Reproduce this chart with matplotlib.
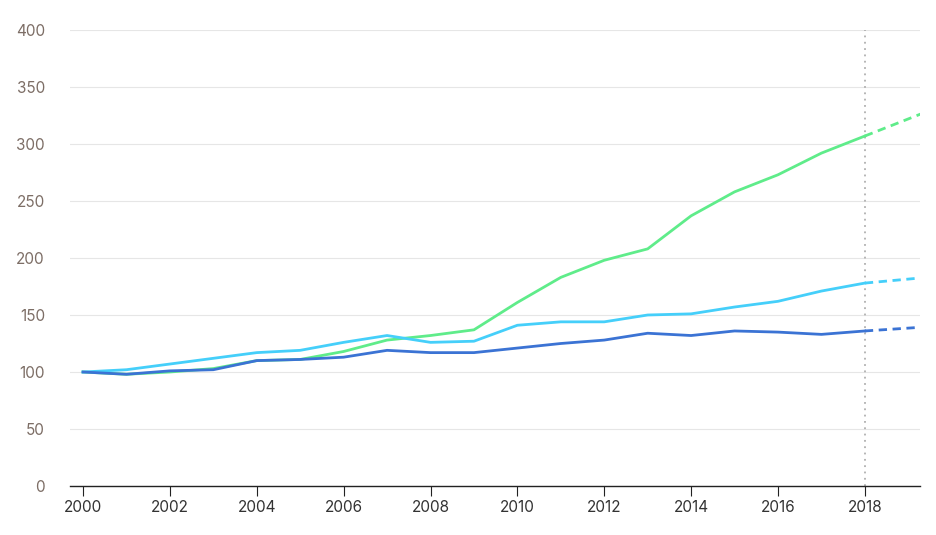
import matplotlib
matplotlib.use("Agg")
import matplotlib.pyplot as plt

plt.rcParams['font.family'] = ['Inter', 'DejaVu Sans']

years = list(range(2000, 2019))
green = [100, 98, 100, 103, 110, 111, 118, 128, 132, 137, 161, 183, 198, 208, 237, 258, 273, 292, 307]
light_blue = [100, 102, 107, 112, 117, 119, 126, 132, 126, 127, 141, 144, 144, 150, 151, 157, 162, 171, 178]
dark_blue = [100, 98, 101, 102, 110, 111, 113, 119, 117, 117, 121, 125, 128, 134, 132, 136, 135, 133, 136]

# projection from the last actual year
proj_years = [2018, 2020]
green_proj = [307, 337]
light_blue_proj = [178, 185]
dark_blue_proj = [136, 141]

colors = ['#5fec8a', '#45cffa', '#3b73d4']

fig = plt.figure(figsize=(9.37, 5.35), dpi=100)
ax = fig.add_axes([70 / 937, 49 / 535, 850 / 937, 456 / 535])

for vals, proj, c in zip([green, light_blue, dark_blue],
                         [green_proj, light_blue_proj, dark_blue_proj], colors):
    ax.plot(years, vals, color=c, lw=2.0, solid_joinstyle='round', zorder=3)
    ax.plot(proj_years, proj, color=c, lw=2.0, ls=(0, (3, 2)), zorder=3)

ax.axvline(2018, color='#b0b0b0', lw=1.3, ls=(0, (1, 2.5)), zorder=2)

ax.set_xlim(1999.7, 2019.27)
ax.set_ylim(0, 400)
ax.set_yticks(range(0, 401, 50))
ax.set_xticks(range(2000, 2019, 2))
ax.grid(axis='y', color='#e6e6e6', lw=0.8)
ax.set_axisbelow(True)

for s in ['top', 'right', 'left']:
    ax.spines[s].set_visible(False)
ax.spines['bottom'].set_color('#222222')
ax.spines['bottom'].set_linewidth(1.0)

ax.tick_params(axis='y', length=0, pad=18, labelsize=11, labelcolor='#7d6e66')
ax.tick_params(axis='x', length=7, width=0.8, color='#222222', pad=3,
               labelsize=11, labelcolor='#333333')

fig.savefig('out.png', dpi=100)
